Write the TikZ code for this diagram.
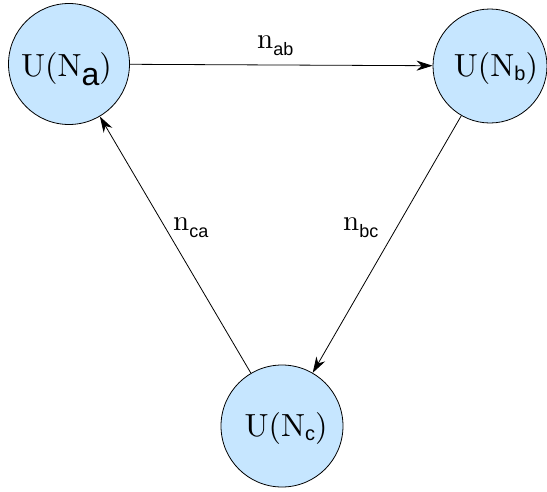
\documentclass[tikz,border=0pt]{standalone}
\usepackage{fontspec}
\newfontfamily\serf{lmroman10-regular.otf}
\newfontfamily\subsf{Liberation Sans}
\usetikzlibrary{arrows.meta}
\definecolor{nodefill}{RGB}{198,230,255}
\newcommand{\bigtxt}{\serf\fontsize{32}{32}\selectfont}
\newcommand{\lbltxt}{\serf\fontsize{29}{29}\selectfont}
\newcommand{\nsub}[1]{\raisebox{-4pt}{\subsf\fontsize{20}{20}\selectfont #1}}
\newcommand{\lsub}[1]{\raisebox{-7.5pt}{\subsf\fontsize{18}{18}\selectfont #1}}
\begin{document}
\begin{tikzpicture}[x=1pt,y=-1pt,
  circ/.style={circle,draw=black,fill=nodefill,line width=0.8pt,inner sep=0pt},
  txt/.style={anchor=base,inner sep=0pt},
  lbl/.style={anchor=base west,inner sep=0pt},
  arr/.style={line width=0.8pt,-{Stealth[length=16pt,width=10pt,inset=5pt]}}]
\useasboundingbox (0,0) rectangle (547,491);
\node[circ,minimum size=121pt] (a) at (69,64) {};
\node[circ,minimum size=114pt] (b) at (490,66) {};
\node[circ,minimum size=122pt] (c) at (282,426) {};
\node[txt] (ta) at (66.5,76) {\bigtxt U(N\raisebox{-9pt}{\subsf\fontsize{32}{32}\selectfont a})};
\node[txt] (tb) at (496,76) {\bigtxt U(N\nsub{b})};
\node[txt] (tc) at (286,436) {\bigtxt U(N\nsub{c})};
\draw[arr] (a) -- (b);
\draw[arr] (b) -- (c);
\draw[arr] (c) -- (a);
\node[lbl] (lab) at (257,48) {\lbltxt n\lsub{ab}};
\node[lbl] (lbc) at (343,230) {\lbltxt n\lsub{bc}};
\node[lbl] (lca) at (173,230) {\lbltxt n\lsub{ca}};
\end{tikzpicture}
\end{document}
